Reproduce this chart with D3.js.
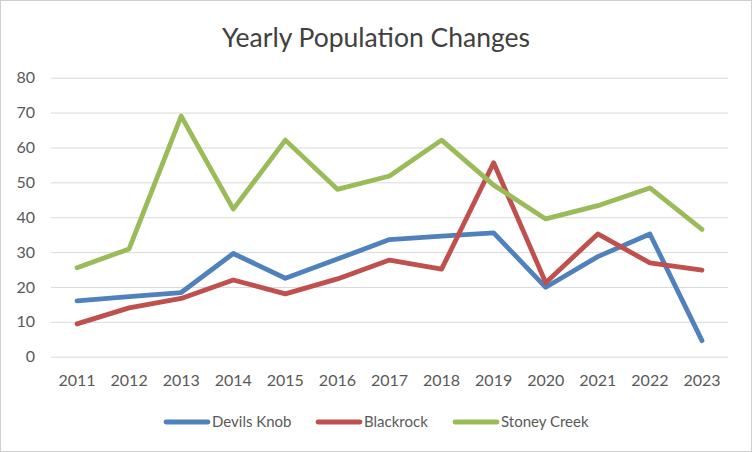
<!DOCTYPE html>
<html><head><meta charset="utf-8">
<script src="https://cdn.jsdelivr.net/npm/d3@7"></script>
<style>body{margin:0;background:#fff}svg{display:block;font-family:Lato,"Open Sans",sans-serif}</style>
</head><body><svg id="c" width="752" height="452"></svg>
<script>
const years = ["2011","2012","2013","2014","2015","2016","2017","2018","2019","2020","2021","2022","2023"];
const devilsKnob = [16,17.2,18.4,29.6,22.5,28,33.6,34.6,35.5,19.9,28.7,35.2,4.6];
const blackrock = [9.4,14,16.7,22,18,22.3,27.7,25.1,55.6,21.2,35.2,26.9,24.8];
const stoneyCreek = [25.5,30.9,69,42.3,62.1,48,51.8,62.1,49.2,39.5,43.3,48.4,36.5];
const seriesNames = ["Devils Knob","Blackrock","Stoney Creek"];
const yTicks = [0,10,20,30,40,50,60,70,80];
const colors = ["#4F81BD","#C0504D","#9BBB59"];
const series = [devilsKnob, blackrock, stoneyCreek];

const svg = d3.select("#c");
svg.append("rect").attr("x",0.5).attr("y",0.5).attr("width",751).attr("height",451).attr("fill","#fff").attr("stroke","#D0D0D0");
svg.append("text").attr("x",376).attr("y",47).attr("text-anchor","middle").attr("font-size",26.5).attr("fill","#404040").text("Yearly Population Changes");

const x = d3.scaleBand().domain(years).range([51,728]);
const y = d3.scaleLinear().domain([0,80]).range([356.7,77.7]);

const gy = svg.append("g").attr("transform","translate(51,0)")
  .call(d3.axisLeft(y).tickValues(yTicks).tickSize(-677).tickPadding(16));
gy.select(".domain").remove();
gy.selectAll(".tick line").attr("stroke","#D9D9D9").attr("stroke-width",1);
gy.selectAll(".tick text").attr("font-size",16).attr("fill","#595959").attr("font-family","Lato,sans-serif");

const gx = svg.append("g").attr("transform","translate(0,356.7)")
  .call(d3.axisBottom(x).tickSize(0).tickPadding(18));
gx.select(".domain").remove();
gx.selectAll(".tick text").attr("font-size",16).attr("fill","#595959").attr("font-family","Lato,sans-serif");

const line = d3.line().x((d,i)=>x(years[i])+x.bandwidth()/2).y(d=>y(d));
series.forEach((s,k)=>{
  svg.append("path").datum(s).attr("d",line).attr("fill","none")
    .attr("stroke",colors[k]).attr("stroke-width",4.8).attr("stroke-linejoin","round").attr("stroke-linecap","round");
});

const legX = [166,318,455];
seriesNames.forEach((n,k)=>{
  svg.append("line").attr("x1",legX[k]).attr("x2",legX[k]+42).attr("y1",422).attr("y2",422)
    .attr("stroke",colors[k]).attr("stroke-width",4.8).attr("stroke-linecap","round");
  svg.append("text").attr("x",legX[k]+46).attr("y",427).attr("font-size",15).attr("fill","#595959").text(n);
});
</script></body></html>
